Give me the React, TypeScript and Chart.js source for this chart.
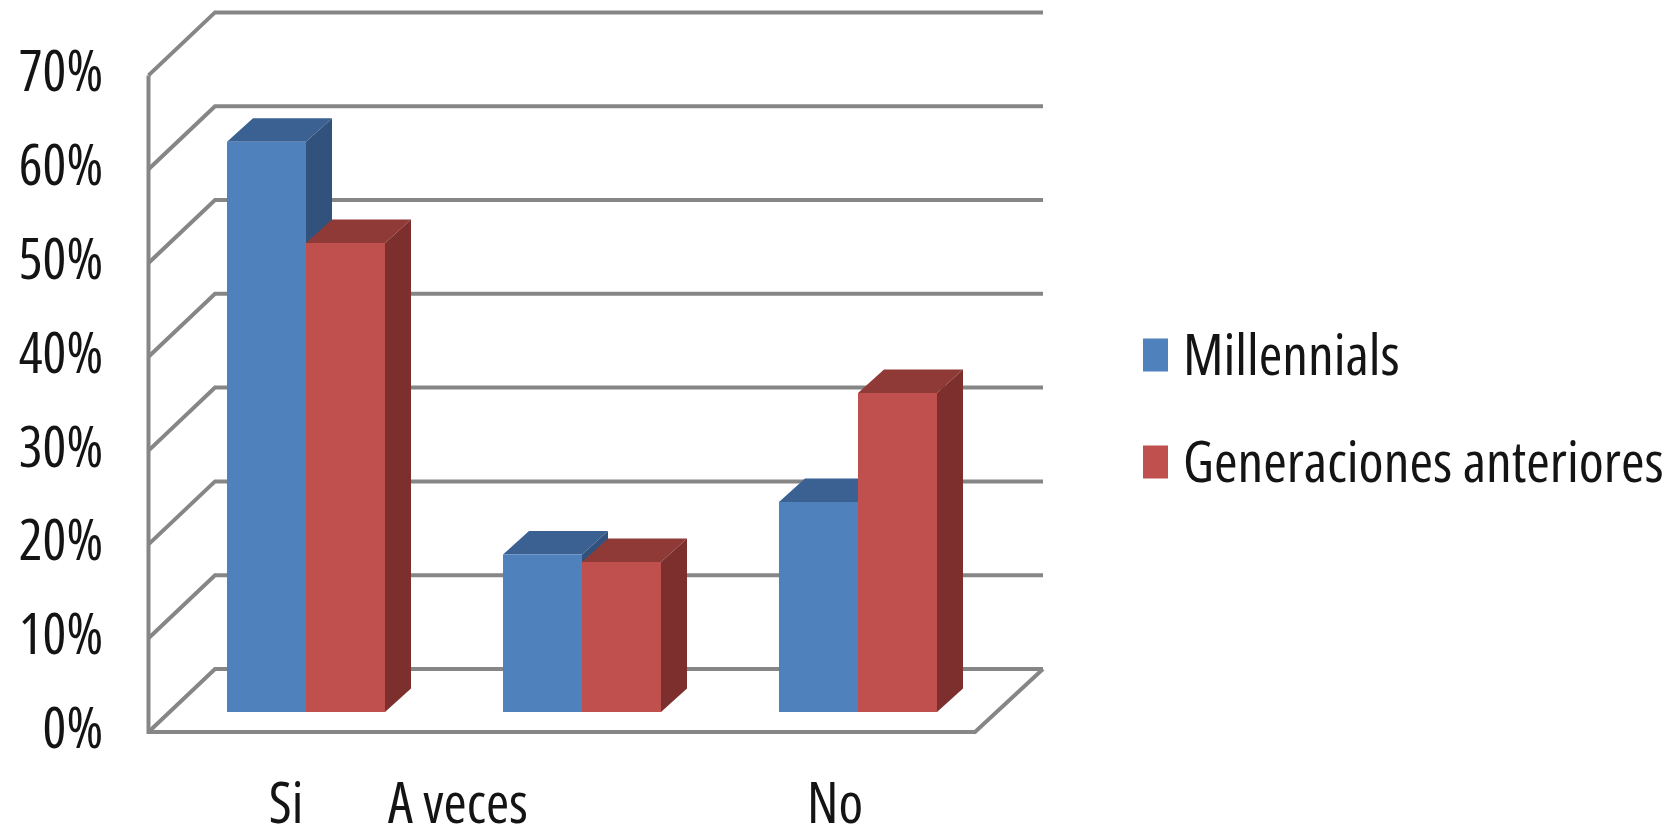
import React, { useEffect, useRef } from "react";
import { Chart, registerables } from "chart.js";

Chart.register(...registerables);

const categories = ["Si", "A veces", "No"];
const millennials = [60.8, 16.8, 22.4];
const generacionesAnteriores = [50, 16, 34];
const yTicks = [0, 10, 20, 30, 40, 50, 60, 70];

// Horizontal shift of each category label away from its group centre.
const categoryLabelShift = [-20, -124, -23];

const FONT_FAMILY = '"Open Sans", sans-serif';
const FONT_STRETCH = "condensed";
const AXIS_FONT_SIZE = 56;
const LEGEND_FONT_SIZE = 57;
const TEXT_COLOR = "#141414";
const GRID_COLOR = "#868686";

const BLUE = { front: "#4F81BD", top: "#3A6192", side: "#31527C" };
const RED = { front: "#C0504D", top: "#8F3A37", side: "#7D2F2D" };

// Oblique projection of the box the columns stand in.
const WALL_BACK_DX = 47;
const WALL_FRONT_LEFT_DX = -19.5;
const WALL_FRONT_RIGHT_DX = -21;
const WALL_BACK_DY = -43;
const WALL_FRONT_DY = 20;
const BAR_DEPTH_X = 26;
const BAR_DEPTH_Y = 23.5;

const wallPlugin = {
  id: "wall3d",
  beforeDatasetsDraw(chart: any) {
    const { ctx, chartArea, scales } = chart;
    const y = scales.y;
    const frontLeft = chartArea.left + WALL_FRONT_LEFT_DX;
    const backLeft = chartArea.left + WALL_BACK_DX;
    const backRight = chartArea.right + WALL_BACK_DX;
    const frontRight = chartArea.right + WALL_FRONT_RIGHT_DX;
    ctx.save();
    ctx.strokeStyle = GRID_COLOR;
    ctx.lineWidth = 4;
    ctx.lineJoin = "miter";
    yTicks.forEach((v) => {
      const p = y.getPixelForValue(v);
      ctx.beginPath();
      ctx.moveTo(frontLeft, p + WALL_FRONT_DY);
      ctx.lineTo(backLeft, p + WALL_BACK_DY);
      ctx.lineTo(backRight, p + WALL_BACK_DY);
      ctx.stroke();
    });
    const zero = y.getPixelForValue(0);
    const top = y.getPixelForValue(yTicks[yTicks.length - 1]);
    ctx.beginPath();
    ctx.moveTo(frontLeft, top + WALL_FRONT_DY);
    ctx.lineTo(frontLeft, zero + WALL_FRONT_DY);
    ctx.lineTo(frontRight, zero + WALL_FRONT_DY);
    ctx.lineTo(backRight, zero + WALL_BACK_DY);
    ctx.stroke();

    // Top and side faces of each column; the library paints the fronts afterwards.
    const shades = [BLUE, RED];
    chart.data.datasets.forEach((_: any, di: number) => {
      chart.getDatasetMeta(di).data.forEach((bar: any) => {
        const l = bar.x - bar.width / 2;
        const r = bar.x + bar.width / 2;
        ctx.fillStyle = shades[di].top;
        ctx.beginPath();
        ctx.moveTo(l, bar.y);
        ctx.lineTo(l + BAR_DEPTH_X, bar.y - BAR_DEPTH_Y);
        ctx.lineTo(r + BAR_DEPTH_X, bar.y - BAR_DEPTH_Y);
        ctx.lineTo(r, bar.y);
        ctx.closePath();
        ctx.fill();
        ctx.fillStyle = shades[di].side;
        ctx.beginPath();
        ctx.moveTo(r, bar.y);
        ctx.lineTo(r + BAR_DEPTH_X, bar.y - BAR_DEPTH_Y);
        ctx.lineTo(r + BAR_DEPTH_X, bar.base - BAR_DEPTH_Y);
        ctx.lineTo(r, bar.base);
        ctx.closePath();
        ctx.fill();
      });
    });
    ctx.restore();
  },
};

// Moves the category labels off their group centres once the scale has laid them out.
const categoryLabelPlugin = {
  id: "categoryLabelShift",
  afterUpdate(chart: any) {
    chart.scales.x.getLabelItems().forEach((item: any, i: number) => {
      item.options.translation[0] += categoryLabelShift[i];
    });
  },
};

const LEGEND_BOX_X = 1143;
const LEGEND_TEXT_X = 1183;
const LEGEND_BOX_ROWS_Y = [355, 462];
const LEGEND_TEXT_ROWS_Y = [359, 466];
const LEGEND_BOX_W = 25;
const LEGEND_BOX_H = 33;

const sideLegendPlugin = {
  id: "sideLegend",
  afterDraw(chart: any) {
    const { ctx } = chart;
    ctx.save();
    ctx.font = `${FONT_STRETCH} ${LEGEND_FONT_SIZE}px ${FONT_FAMILY}`;
    ctx.textBaseline = "middle";
    ctx.textAlign = "left";
    chart.data.datasets.forEach((ds: any, i: number) => {
      ctx.fillStyle = ds.backgroundColor;
      ctx.fillRect(LEGEND_BOX_X, LEGEND_BOX_ROWS_Y[i] - LEGEND_BOX_H / 2, LEGEND_BOX_W, LEGEND_BOX_H);
      ctx.fillStyle = TEXT_COLOR;
      ctx.fillText(ds.label, LEGEND_TEXT_X, LEGEND_TEXT_ROWS_Y[i]);
    });
    ctx.restore();
  },
};

// The weight slot of the font shorthand also carries the font-stretch keyword.
const axisFont = { family: FONT_FAMILY, size: AXIS_FONT_SIZE, weight: FONT_STRETCH };

export default function App() {
  const ref = useRef<HTMLCanvasElement | null>(null);

  useEffect(() => {
    const canvas = ref.current;
    if (!canvas) return;
    const chart = new Chart(canvas, {
      type: "bar",
      data: {
        labels: categories,
        datasets: [
          { label: "Millennials", data: millennials, backgroundColor: BLUE.front },
          { label: "Generaciones anteriores", data: generacionesAnteriores, backgroundColor: RED.front },
        ],
      },
      options: {
        responsive: false,
        animation: false,
        layout: { padding: { top: 55.4, right: 681, bottom: 0, left: 0 } },
        datasets: { bar: { categoryPercentage: 0.5725, barPercentage: 1 } },
        plugins: { legend: { display: false }, tooltip: { enabled: false } },
        scales: {
          x: {
            grid: { display: false, drawTicks: false },
            border: { display: false },
            afterFit: (s: any) => {
              s.height = 115;
              s.paddingLeft = 0;
              s.paddingRight = 0;
            },
            ticks: {
              padding: 61,
              maxRotation: 0,
              autoSkip: false,
              color: TEXT_COLOR,
              font: axisFont,
            },
          },
          y: {
            min: 0,
            max: 70,
            grid: { display: false, drawTicks: false },
            border: { display: false },
            afterFit: (s: any) => {
              s.width = 168;
              s.paddingTop = 0;
              s.paddingBottom = 0;
            },
            afterBuildTicks: (s: any) => {
              s.ticks = yTicks.map((value) => ({ value }));
            },
            ticks: {
              padding: 65,
              labelOffset: 20,
              color: TEXT_COLOR,
              font: axisFont,
              callback: (v: any) => `${v}%`,
            },
          },
        },
      },
      plugins: [wallPlugin, categoryLabelPlugin, sideLegendPlugin],
    } as any);
    return () => chart.destroy();
  }, []);

  return (
    <div style={{ position: "absolute", left: 0, top: 0, width: 1677, height: 827, background: "#fff" }}>
      <canvas ref={ref} width={1677} height={827} style={{ display: "block" }} />
    </div>
  );
}
